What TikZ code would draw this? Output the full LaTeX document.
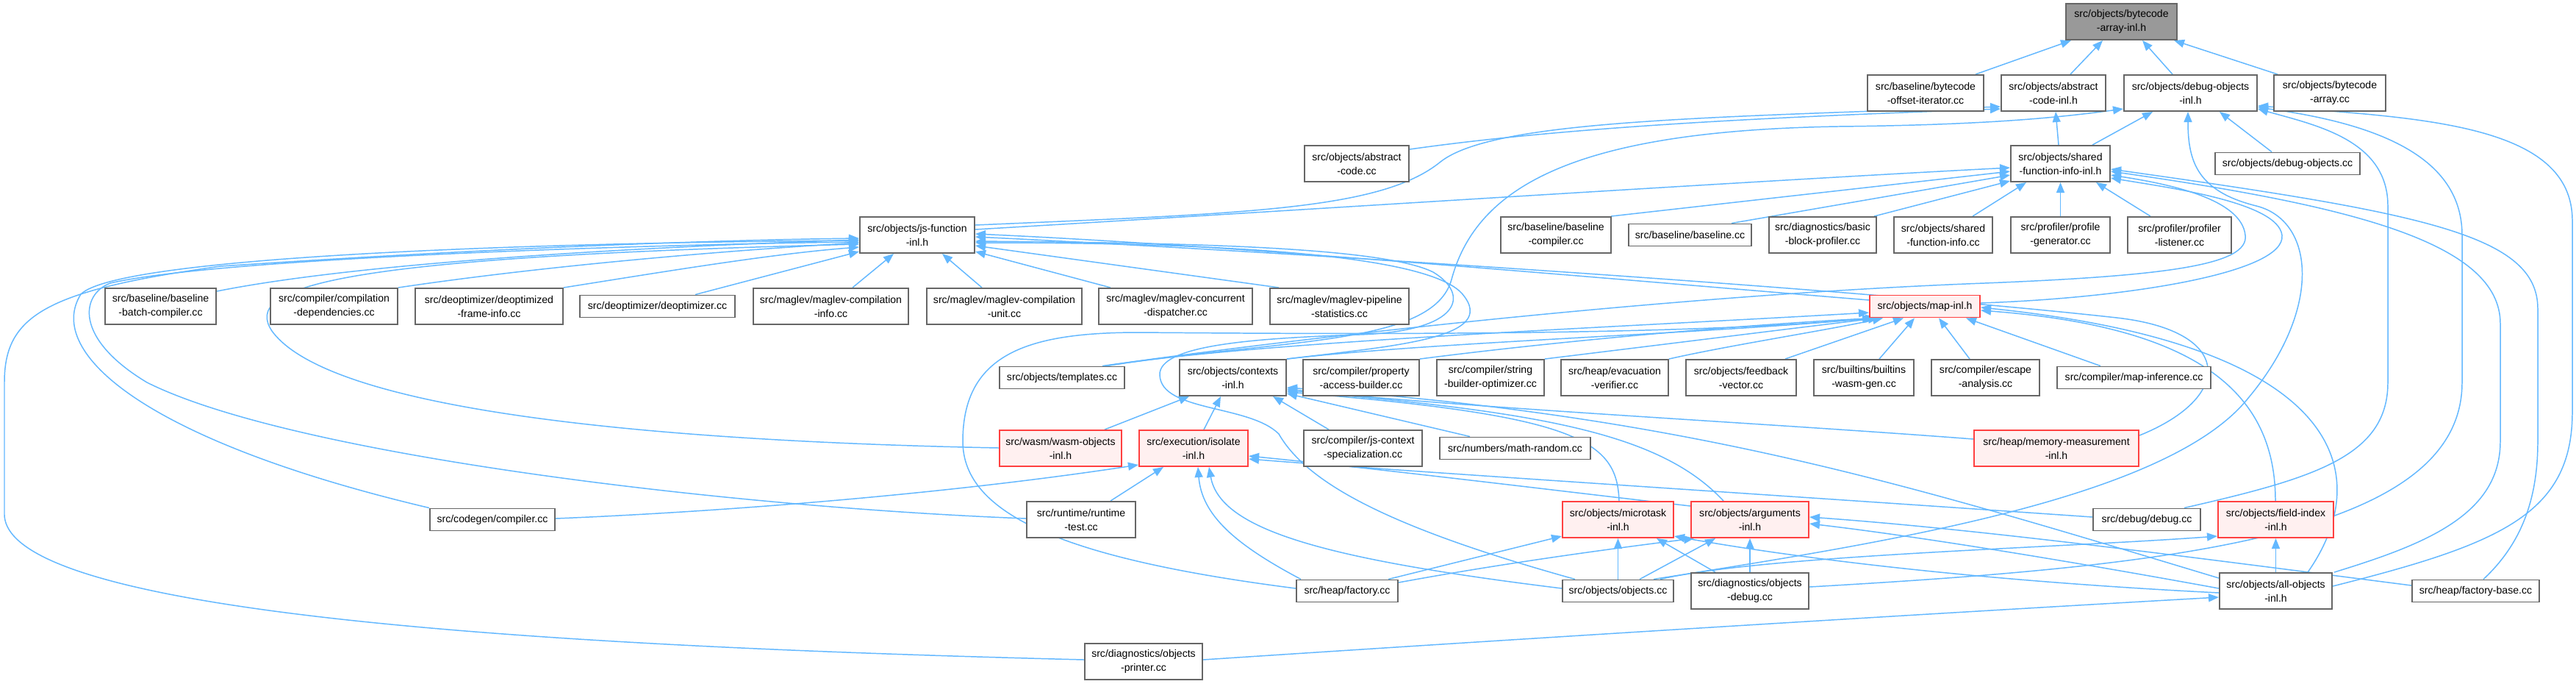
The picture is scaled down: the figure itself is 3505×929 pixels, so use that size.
\documentclass[tikz,border=0pt]{standalone}
\usepackage{fontspec}
\newfontfamily\dxsans{Liberation Sans}
\usetikzlibrary{arrows.meta}
\definecolor{edgeblue}{HTML}{63B8FF}
\definecolor{boxgray}{HTML}{666666}
\definecolor{boxfill}{HTML}{999999}
\definecolor{boxred}{HTML}{FF4040}
\definecolor{boxredfill}{HTML}{FFF0F0}
\pgfdeclarelayer{bg}
\pgfsetlayers{bg,main}
\tikzset{
  box/.style={draw=boxgray, fill=white, line width=0.55pt, inner sep=0pt, align=center,
    font={\dxsans\fontsize{4pt}{5.4pt}\selectfont}},
  redbox/.style={box, draw=boxred, fill=boxredfill},
  graybox/.style={box, fill=boxfill},
  two/.style={minimum height=0.49cm},
  one/.style={minimum height=0.30cm},
  dep/.style={draw=edgeblue, line width=0.42pt, -{Triangle[length=0.14cm,width=0.11cm]}},
}
\begin{document}
\begin{tikzpicture}[x=0.01cm,y=-0.01cm]
\useasboundingbox (0,0) rectangle (3505,929);
% nodes
\node[graybox,two,minimum width=1.51cm] (bai) at (2886.5,29.5) {src/objects/bytecode\\-array-inl.h};
\node[box,two,minimum width=1.58cm] (boi) at (2620,126.5) {src/baseline/bytecode\\-offset-iterator.cc};
\node[box,two,minimum width=1.42cm] (aci) at (2794,126.5) {src/objects/abstract\\-code-inl.h};
\node[box,two,minimum width=1.81cm] (doi) at (2980.5,126.5) {src/objects/debug-objects\\-inl.h};
\node[box,two,minimum width=1.52cm] (bac) at (3170,126.5) {src/objects/bytecode\\-array.cc};
\node[box,two,minimum width=1.42cm] (ac) at (1846,222.5) {src/objects/abstract\\-code.cc};
\node[box,two,minimum width=1.35cm] (sfi) at (2803.5,222.5) {src/objects/shared\\-function-info-inl.h};
\node[box,one,minimum width=1.97cm] (doc) at (3112.5,222.5) {src/objects/debug-objects.cc};
\node[box,two,minimum width=1.56cm] (jfi) at (1248,319.5) {src/objects/js-function\\-inl.h};
\node[box,two,minimum width=1.50cm] (blc) at (2117,319.5) {src/baseline/baseline\\-compiler.cc};
\node[box,one,minimum width=1.67cm] (bl) at (2299.5,319.5) {src/baseline/baseline.cc};
\node[box,two,minimum width=1.46cm] (bbp) at (2480,319.5) {src/diagnostics/basic\\-block-profiler.cc};
\node[box,two,minimum width=1.34cm] (sfc) at (2644,319.5) {src/objects/shared\\-function-info.cc};
\node[box,two,minimum width=1.35cm] (pg) at (2803.5,319.5) {src/profiler/profile\\-generator.cc};
\node[box,two,minimum width=1.41cm] (pl) at (2965.5,319.5) {src/profiler/profiler\\-listener.cc};
\node[box,two,minimum width=1.51cm] (bbc) at (218.5,416.5) {src/baseline/baseline\\-batch-compiler.cc};
\node[box,two,minimum width=1.73cm] (cd) at (454.5,416.5) {src/compiler/compilation\\-dependencies.cc};
\node[box,two,minimum width=2.01cm] (dfi) at (665.5,416.5) {src/deoptimizer/deoptimized\\-frame-info.cc};
\node[box,one,minimum width=2.11cm] (deo) at (894.5,416.5) {src/deoptimizer/deoptimizer.cc};
\node[box,two,minimum width=2.11cm] (mci) at (1130.5,416.5) {src/maglev/maglev-compilation\\-info.cc};
\node[box,two,minimum width=2.11cm] (mcu) at (1366.5,416.5) {src/maglev/maglev-compilation\\-unit.cc};
\node[box,two,minimum width=2.09cm] (mcd) at (1599.5,416.5) {src/maglev/maglev-concurrent\\-dispatcher.cc};
\node[box,two,minimum width=1.89cm] (mps) at (1822.5,416.5) {src/maglev/maglev-pipeline\\-statistics.cc};
\node[redbox,one,minimum width=1.50cm] (map) at (2619,416.5) {src/objects/map-inl.h};
\node[box,one,minimum width=1.70cm] (tpl) at (1445,513.5) {src/objects/templates.cc};
\node[box,two,minimum width=1.45cm] (ctx) at (1677.5,513.5) {src/objects/contexts\\-inl.h};
\node[box,two,minimum width=1.58cm] (pab) at (1852,513.5) {src/compiler/property\\-access-builder.cc};
\node[box,two,minimum width=1.46cm] (sbo) at (2028,513.5) {src/compiler/string\\-builder-optimizer.cc};
\node[box,two,minimum width=1.46cm] (evv) at (2197,513.5) {src/heap/evacuation\\-verifier.cc};
\node[box,two,minimum width=1.50cm] (fbv) at (2369,513.5) {src/objects/feedback\\-vector.cc};
\node[box,two,minimum width=1.36cm] (bwg) at (2536,513.5) {src/builtins/builtins\\-wasm-gen.cc};
\node[box,two,minimum width=1.47cm] (esc) at (2701.5,513.5) {src/compiler/escape\\-analysis.cc};
\node[box,one,minimum width=2.09cm] (mif) at (2903.5,513.5) {src/compiler/map-inference.cc};
\node[redbox,two,minimum width=1.66cm] (wasm) at (1443,609.5) {src/wasm/wasm-objects\\-inl.h};
\node[redbox,two,minimum width=1.48cm] (iso) at (1624,609.5) {src/execution/isolate\\-inl.h};
\node[box,two,minimum width=1.61cm] (jcs) at (1854.5,609.5) {src/compiler/js-context\\-specialization.cc};
\node[box,one,minimum width=2.05cm] (mr) at (2061.5,609.5) {src/numbers/math-random.cc};
\node[redbox,two,minimum width=2.24cm] (mm) at (2798,609.5) {src/heap/memory-measurement\\-inl.h};
\node[box,one,minimum width=1.70cm] (cg) at (670,706.5) {src/codegen/compiler.cc};
\node[box,two,minimum width=1.48cm] (rt) at (1471,706.5) {src/runtime/runtime\\-test.cc};
\node[redbox,two,minimum width=1.51cm] (mt) at (2201.5,706.5) {src/objects/microtask\\-inl.h};
\node[redbox,two,minimum width=1.60cm] (arg) at (2381,706.5) {src/objects/arguments\\-inl.h};
\node[box,one,minimum width=1.46cm] (dbg) at (2921,706.5) {src/debug/debug.cc};
\node[redbox,two,minimum width=1.57cm] (fi) at (3096.5,706.5) {src/objects/field-index\\-inl.h};
\node[box,one,minimum width=1.38cm] (hf) at (1833,803.5) {src/heap/factory.cc};
\node[box,one,minimum width=1.51cm] (obj) at (2201.5,803.5) {src/objects/objects.cc};
\node[box,two,minimum width=1.60cm] (od) at (2381,803.5) {src/diagnostics/objects\\-debug.cc};
\node[box,two,minimum width=1.53cm] (ao) at (3096.5,803.5) {src/objects/all-objects\\-inl.h};
\node[box,one,minimum width=1.73cm] (fb) at (3368.5,803.5) {src/heap/factory-base.cc};
\node[box,two,minimum width=1.60cm] (op) at (1556,899.5) {src/diagnostics/objects\\-printer.cc};

\begin{pgfonlayer}{bg}
\fill[white] (0,0) rectangle (3505,929);
% into bytecode-array-inl.h
\draw[dep] (2688,0 |- boi.north) -- (2818,0 |- bai.south);
\draw[dep] (2817,0 |- aci.north) -- (2861,0 |- bai.south);
\draw[dep] (2956,0 |- doi.north) -- (2915,0 |- bai.south);
\draw[dep] (3099,0 |- bac.north) -- (2958,0 |- bai.south);
% into abstract-code-inl.h
\draw[dep] (2801,0 |- sfi.north) -- (2797,0 |- aci.south);
\draw[dep] (ac.east |- 0,203) .. controls (2150,170) and (2450,158) .. (aci.west |- 0,148);
\draw[dep] (jfi.east |- 0,306) .. controls (1700,290) and (1880,285) .. (1960,220) .. controls (2030,165) and (2300,160) .. (aci.west |- 0,145);
% into debug-objects-inl.h
\draw[dep] (2847,0 |- sfi.north) -- (2929,0 |- doi.south);
\draw[dep] (3091,0 |- doc.north) -- (3020,0 |- doi.south);
\draw[dep] (2250,0 |- obj.north) .. controls (2550,740) and (2950,680) .. (3060,540) .. controls (3160,420) and (3150,300) .. (3070,280) .. controls (2990,260) and (2977,220) .. (2977,0 |- doi.south);
\draw[dep] (2972,0 |- dbg.north) .. controls (3150,650) and (3249,620) .. (3249,520) -- (3249,280) .. controls (3249,190) and (3150,170) .. (doi.east |- 0,148);
\draw[dep] (od.east |- 0,798) .. controls (2950,770) and (3350,730) .. (3350,520) -- (3350,320) .. controls (3350,220) and (3250,170) .. (doi.east |- 0,146);
\draw[dep] (ao.east |- 0,797) .. controls (3400,740) and (3500,700) .. (3500,560) -- (3500,300) .. controls (3500,170) and (3300,160) .. (doi.east |- 0,144);
\draw[dep] (1504,0 |- tpl.north) .. controls (1750,460) and (1950,470) .. (1975,380) .. controls (2010,250) and (2150,178) .. (2500,172) .. controls (2700,170) and (2800,160) .. (doi.west |- 0,148);
% into shared-function-info-inl.h
\draw[dep] (jfi.east |- 0,312) .. controls (1700,290) and (2400,245) .. (sfi.west |- 0,228);
\draw[dep] (2192,0 |- blc.north) -- (sfi.west |- 0,233);
\draw[dep] (2356,0 |- bl.north) -- (sfi.west |- 0,238);
\draw[dep] (2550,0 |- bbp.north) -- (sfi.west |- 0,246);
\draw[dep] (2684,0 |- sfc.north) -- (2757,0 |- sfi.south);
\draw[dep] (pg.north) -- (sfi.south);
\draw[dep] (2926,0 |- pl.north) -- (2852,0 |- sfi.south);
\draw[dep] (1500,0 |- tpl.north) .. controls (1800,455) and (2300,400) .. (2700,385) .. controls (2950,375) and (3060,360) .. (3055,320) .. controls (3050,270) and (2950,250) .. (sfi.east |- 0,238);
\draw[dep] (map.east |- 0,412) .. controls (2900,405) and (3110,370) .. (3105,320) .. controls (3100,275) and (2950,255) .. (sfi.east |- 0,242);
\draw[dep] (3176,0 |- ao.north) .. controls (3300,740) and (3402,700) .. (3402,600) -- (3402,440) .. controls (3402,330) and (3200,280) .. (sfi.east |- 0,233);
\draw[dep] (3379,0 |- fb.north) .. controls (3430,740) and (3453,680) .. (3453,600) -- (3453,420) .. controls (3453,320) and (3300,290) .. (sfi.east |- 0,230);
% into js-function-inl.h
\draw[dep] (bbc.east |- 0,396) .. controls (500,355) and (900,335) .. (jfi.west |- 0,326);
\draw[dep] (cd.north east) .. controls (750,360) and (1000,340) .. (jfi.west |- 0,330);
\draw[dep] (dfi.north east) .. controls (900,370) and (1050,345) .. (jfi.west |- 0,336);
\draw[dep] (946,0 |- deo.north) -- (jfi.west |- 0,342);
\draw[dep] (1160,0 |- mci.north) -- (1216,0 |- jfi.south);
\draw[dep] (1336,0 |- mcu.north) -- (1282,0 |- jfi.south);
\draw[dep] (1511,0 |- mcd.north) -- (jfi.east |- 0,342);
\draw[dep] (1740,0 |- mps.north) -- (jfi.east |- 0,334);
\draw[dep] (op.west |- 0,897) .. controls (800,880) and (10,840) .. (6,700) -- (6,520) .. controls (6,430) and (60,395) .. (300,362) .. controls (700,335) and (1000,326) .. (jfi.west |- 0,324);
\draw[dep] (cg.north west) .. controls (200,600) and (60,480) .. (110,400) .. controls (160,350) and (700,330) .. (jfi.west |- 0,327);
\draw[dep] (rt.west |- 0,705) .. controls (1000,690) and (400,620) .. (200,520) .. controls (100,460) and (110,400) .. (150,385) .. controls (300,350) and (900,332) .. (jfi.west |- 0,329);
\draw[dep] (wasm.west |- 0,609) .. controls (900,600) and (450,560) .. (370,450) .. controls (330,390) and (450,350) .. (jfi.west |- 0,332);
\draw[dep] (mm.east |- 0,592) .. controls (3040,540) and (3040,450) .. (2880,432) .. controls (2500,390) and (1700,340) .. (jfi.east |- 0,322);
\draw[dep] (map.west |- 0,408) .. controls (2200,380) and (1700,335) .. (jfi.east |- 0,318);
\draw[dep] (2143,0 |- obj.north) .. controls (1900,720) and (1780,660) .. (1740,590) .. controls (1700,550) and (1580,560) .. (1578,510) .. controls (1576,470) and (1700,460) .. (1850,455) .. controls (1990,450) and (2000,400) .. (1950,370) .. controls (1880,335) and (1600,330) .. (jfi.east |- 0,328);
\draw[dep] (ctx.north east) .. controls (1900,470) and (2040,460) .. (1990,400) .. controls (1940,340) and (1600,330) .. (jfi.east |- 0,330);
% into map-inl.h
\draw[dep] (pab.north east) .. controls (2150,460) and (2400,440) .. (2552,0 |- map.south);
\draw[dep] (sbo.north east) .. controls (2250,470) and (2450,445) .. (2556,0 |- map.south);
\draw[dep] (evv.north east) .. controls (2350,470) and (2480,450) .. (2562,0 |- map.south);
\draw[dep] (2429,0 |- fbv.north) -- (2590,0 |- map.south);
\draw[dep] (2557,0 |- bwg.north) -- (2605,0 |- map.south);
\draw[dep] (2680,0 |- esc.north) -- (2638,0 |- map.south);
\draw[dep] (2858,0 |- mif.north) -- (2675,0 |- map.south);
\draw[dep] (1506,0 |- tpl.north) .. controls (1700,465) and (2200,445) .. (map.west |- 0,425);
\draw[dep] (ctx.north east) .. controls (1950,465) and (2300,455) .. (2549,0 |- map.south);
\draw[dep] (hf.west |- 0,800) .. controls (1450,760) and (1310,700) .. (1310,600) .. controls (1310,480) and (1400,452) .. (1550,452) .. controls (1900,455) and (2300,455) .. (2548,0 |- map.south);
\draw[dep] (3096,0 |- fi.north) .. controls (3096,540) and (3000,445) .. (map.east |- 0,422);
\draw[dep] (3140,0 |- ao.north) .. controls (3230,650) and (3200,470) .. (map.east |- 0,418);
% into contexts-inl.h
\draw[dep] (1503,0 |- wasm.north) -- (1618,0 |- ctx.south);
\draw[dep] (1638,0 |- iso.north) -- (1661,0 |- ctx.south);
\draw[dep] (1808,0 |- jcs.north) -- (1732,0 |- ctx.south);
\draw[dep] (2000,0 |- mr.north) -- (ctx.east |- 0,535);
\draw[dep] (2203,0 |- mt.north) .. controls (2200,600) and (2150,565) .. (ctx.east |- 0,533);
\draw[dep] (2345,0 |- arg.north) .. controls (2260,590) and (2100,560) .. (ctx.east |- 0,531);
\draw[dep] (mm.west |- 0,597) .. controls (2400,575) and (2000,555) .. (ctx.east |- 0,529);
\draw[dep] (ao.west |- 0,786) .. controls (2600,660) and (2300,565) .. (ctx.east |- 0,527);
% into isolate-inl.h
\draw[dep] (1511,0 |- rt.north) -- (1583,0 |- iso.south);
\draw[dep] (cg.east |- 0,705) .. controls (1000,695) and (1300,670) .. (iso.west |- 0,632);
\draw[dep] (1770,0 |- hf.north) .. controls (1680,740) and (1635,700) .. (1630,0 |- iso.south);
\draw[dep] (obj.west |- 0,800) .. controls (1800,760) and (1660,720) .. (1645,0 |- iso.south);
\draw[dep] (arg.west |- 0,688) .. controls (2100,665) and (1900,640) .. (iso.east |- 0,620);
\draw[dep] (dbg.west |- 0,703) .. controls (2400,672) and (1900,640) .. (iso.east |- 0,624);
% into microtask-inl.h
\draw[dep] (1889,0 |- hf.north) -- (mt.west |- 0,729);
\draw[dep] (obj.north) -- (mt.south);
\draw[dep] (2334,0 |- od.north) -- (2254,0 |- mt.south);
\draw[dep] (ao.west |- 0,806) .. controls (2700,790) and (2450,760) .. (mt.east |- 0,729);
% into arguments-inl.h
\draw[dep] (hf.east |- 0,792) .. controls (2050,765) and (2200,745) .. (2305,0 |- arg.south);
\draw[dep] (2231,0 |- obj.north) -- (2334,0 |- arg.south);
\draw[dep] (od.north) -- (arg.south);
\draw[dep] (ao.west |- 0,800) .. controls (2800,760) and (2600,728) .. (arg.east |- 0,712);
\draw[dep] (fb.west |- 0,796) .. controls (3000,760) and (2700,720) .. (arg.east |- 0,703);
% into field-index-inl.h
\draw[dep] (ao.north) -- (fi.south);
\draw[dep] (2259,0 |- obj.north) .. controls (2400,755) and (2800,745) .. (fi.west |- 0,729);
% into all-objects-inl.h
\draw[dep] (op.east |- 0,897) .. controls (2200,860) and (2700,830) .. (ao.west |- 0,812);
\end{pgfonlayer}
\end{tikzpicture}
\end{document}
